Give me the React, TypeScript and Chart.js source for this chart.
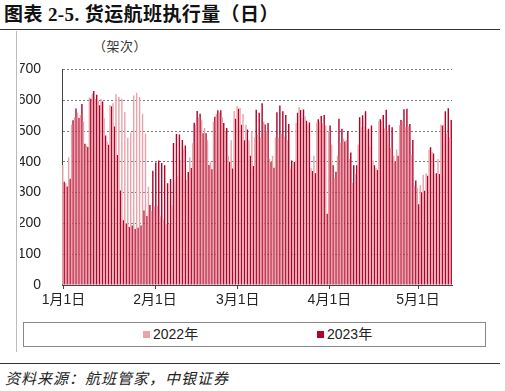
import React, { useEffect, useRef } from 'react';
import { Chart, registerables } from 'chart.js';

Chart.register(...registerables);

// Days shown per month (Jan 1 – May 12)
const monthNumbers = [1, 2, 3, 4, 5];
const monthDays = [31, 28, 31, 30, 12];
const tickLabels = ['1月1日', '2月1日', '3月1日', '4月1日', '5月1日'];
const legendLabels = ['2022年', '2023年'];

const series2022 = [
  390, 330, 415, 520, 545, 560, 552, 531, 453, 609,
  622, 604, 599, 604, 542, 466, 584, 590, 620, 610,
  605, 562, 478, 495, 615, 624, 610, 556, 492, 319,
  240, 255, 257, 223, 213, 198, 198, 260, 340, 355,
  406, 440, 342, 414, 460, 520, 545, 535, 510, 470,
  400, 530, 555, 560, 545, 500, 420, 470, 565, 580,
  575, 555, 520, 470, 500, 480, 487, 480, 530, 500,
  410, 420, 480, 478, 490, 482, 470, 378, 400, 526,
  577, 541, 548, 520, 381, 420, 528, 530, 525, 518,
  500, 456, 347, 420, 461, 476, 471, 409, 332, 360,
  456, 512, 515, 502, 448, 404, 380, 533, 533, 509,
  500, 445, 420, 440, 519, 533, 512, 515, 423, 322,
  316, 324, 358, 363, 440, 433, 361, 409, 520, 520,
  492, 480,
];

const series2023 = [
  335, 320, 345, 535, 573, 542, 588, 459, 448, 605,
  630, 618, 584, 596, 485, 455, 580, 515, 422, 307,
  210, 200, 188, 193, 182, 186, 193, 242, 224, 260,
  371, 398, 404, 396, 389, 330, 344, 461, 490, 489,
  471, 453, 367, 380, 527, 565, 556, 493, 493, 390,
  376, 546, 567, 567, 526, 510, 400, 378, 540, 572,
  520, 470, 505, 420, 386, 569, 559, 590, 521, 526,
  399, 381, 561, 583, 564, 552, 523, 404, 399, 559,
  568, 570, 533, 528, 370, 363, 538, 549, 552, 231,
  518, 389, 368, 540, 507, 466, 499, 430, 389, 389,
  545, 551, 564, 507, 518, 389, 373, 538, 552, 569,
  520, 512, 401, 420, 536, 571, 572, 523, 471, 339,
  262, 301, 306, 355, 447, 427, 363, 360, 518, 564,
  574, 536,
];

const categories: string[] = [];
monthNumbers.forEach((m, i) => {
  for (let d = 1; d <= monthDays[i]; d++) categories.push(`${m}月${d}日`);
});

const COLOR_2022 = '#E9A3AA';
const COLOR_2023 = '#B20229';
const FONT = '"Liberation Sans", "Noto Sans CJK SC", sans-serif';

export default function App() {
  const ref = useRef<HTMLCanvasElement | null>(null);

  useEffect(() => {
    if (!ref.current) return;
    const chart = new Chart(ref.current, {
      type: 'bar',
      data: {
        labels: categories,
        datasets: [
          {
            label: legendLabels[0],
            data: series2022,
            backgroundColor: COLOR_2022,
            categoryPercentage: 0.96,
            barPercentage: 1,
          },
          {
            label: legendLabels[1],
            data: series2023,
            backgroundColor: COLOR_2023,
            categoryPercentage: 0.96,
            barPercentage: 1,
          },
        ],
      },
      options: {
        animation: false,
        responsive: false,
        maintainAspectRatio: false,
        layout: { padding: { top: 21, right: 8, left: 0, bottom: 0 } },
        plugins: { legend: { display: false }, tooltip: { enabled: false } },
        scales: {
          x: {
            grid: {
              drawOnChartArea: false,
              drawTicks: true,
              tickLength: 4,
              offset: false,
              color: (ctx: any) =>
                tickLabels.includes(categories[ctx.index]) ? '#444' : 'rgba(0,0,0,0)',
            },
            border: { display: true, color: '#444', width: 1 },
            ticks: {
              autoSkip: false,
              maxRotation: 0,
              minRotation: 0,
              padding: 3,
              color: '#222',
              font: { family: FONT, size: 14 },
              callback: (_v: any, i: number) =>
                tickLabels.includes(categories[i]) ? categories[i] : '',
            },
            afterFit: (s: any) => {
              s.height = 35;
            },
          },
          y: {
            min: 0,
            max: 700,
            grid: { drawTicks: false, color: '#7a7a7a', lineWidth: 1 },
            border: { display: true, color: '#444', width: 1, dash: [2, 2] },
            ticks: {
              stepSize: 100,
              padding: 21,
              color: '#222',
              font: { family: FONT, size: 14 },
            },
            afterFit: (s: any) => {
              s.width = 42;
            },
          },
        },
      },
    } as any);
    return () => chart.destroy();
  }, []);

  const abs = (s: React.CSSProperties): React.CSSProperties => ({ position: 'absolute', ...s });

  return (
    <div style={{ position: 'absolute', left: 0, top: 0, width: 505, height: 391, background: '#fff', overflow: 'hidden' }}>
      <div
        style={abs({
          left: 4,
          top: 5,
          fontSize: 19,
          lineHeight: '20px',
          fontWeight: 'bold',
          color: '#111',
          fontFamily: '"Liberation Serif", "Noto Sans CJK SC", serif',
          whiteSpace: 'nowrap',
          letterSpacing: 0.4,
        })}
      >
        图表 2-5. 货运航班执行量（日）
      </div>
      <div style={abs({ left: 0, top: 29, width: 500, height: 0, borderTop: '1.5px solid #333' })} />
      <div style={abs({ left: 16, top: 31, width: 0, height: 321, borderLeft: '1px solid #bbb' })} />
      <div
        style={abs({
          left: 93,
          top: 38,
          fontSize: 13,
          lineHeight: '16px',
          color: '#333',
          fontFamily: '"Noto Sans CJK SC", sans-serif',
          whiteSpace: 'nowrap',
          letterSpacing: 0.5,
        })}
      >
        （架次）
      </div>
      <canvas ref={ref} width={440} height={280} style={abs({ left: 20, top: 40, width: 440, height: 280 })} />
      <div style={abs({ left: 23, top: 322, width: 461, height: 23, border: '1px solid #888' })}>
        <div style={abs({ left: 119, top: 8, width: 7, height: 7, background: COLOR_2022 })} />
        <div style={abs({ left: 129, top: 2, fontSize: 14, lineHeight: '18px', color: '#222', fontFamily: FONT, whiteSpace: 'nowrap' })}>
          {legendLabels[0]}
        </div>
        <div style={abs({ left: 293, top: 8, width: 7, height: 7, background: COLOR_2023 })} />
        <div style={abs({ left: 303, top: 2, fontSize: 14, lineHeight: '18px', color: '#222', fontFamily: FONT, whiteSpace: 'nowrap' })}>
          {legendLabels[1]}
        </div>
      </div>
      <div style={abs({ left: 0, top: 363, width: 500, height: 0, borderTop: '1.5px solid #333' })} />
      <div
        style={abs({
          left: 5,
          top: 369,
          fontSize: 15,
          lineHeight: '18px',
          fontStyle: 'italic',
          color: '#222',
          fontFamily: '"Noto Sans CJK SC", sans-serif',
          whiteSpace: 'nowrap',
          letterSpacing: 1,
        })}
      >
        资料来源：航班管家，中银证券
      </div>
    </div>
  );
}
